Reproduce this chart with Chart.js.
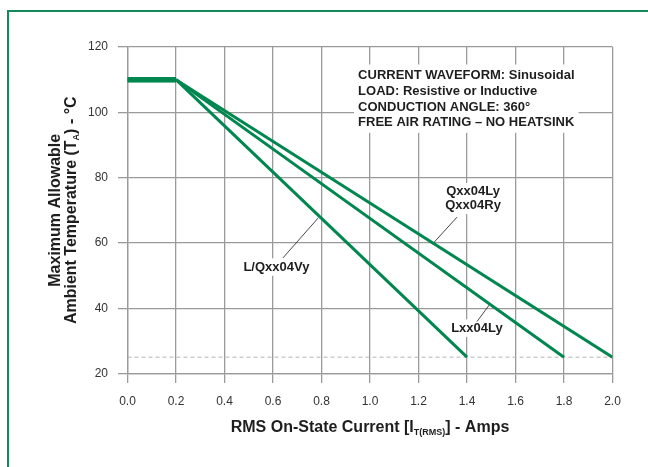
<!DOCTYPE html>
<html><head><meta charset="utf-8">
<script src="https://cdn.jsdelivr.net/npm/chart.js@4.4.1/dist/chart.umd.min.js"></script>
<style>
html,body{margin:0;padding:0;background:#fff;overflow:hidden;width:648px;height:467px}
#frame{position:absolute;left:7px;top:10px;width:700px;height:520px;border-left:2px solid #16895c;border-top:2px solid #16895c}
canvas{position:absolute;left:0;top:0}
</style></head>
<body><div id="frame"></div><canvas id="c" width="648" height="467"></canvas>
<script>
// ---- data ----
const vyCurrent = [0, 0.2, 1.4];
const vyTemp    = [110, 110, 25];
const lyCurrent = [0, 0.2, 1.8];
const lyTemp    = [110, 110, 25];
const qCurrent  = [0, 0.2, 2.0];
const qTemp     = [110, 110, 25];
const refCurrent = [0, 2.0];
const refTemp    = [25, 25];
const xTicks = [0, 0.2, 0.4, 0.6, 0.8, 1.0, 1.2, 1.4, 1.6, 1.8, 2.0];
const yTicks = [20, 40, 60, 80, 100, 120];
const conditionLines = ['CURRENT WAVEFORM: Sinusoidal', 'LOAD: Resistive or Inductive', 'CONDUCTION ANGLE: 360°', 'FREE AIR RATING – NO HEATSINK'];
// label texts, anchor (data units) and leader ends (data units)
const seriesLabels = [
  {lines: ['L/Qxx04Vy'], at: [0.614, 52.6], from: [0.641, 55.4], to: [0.786, 67.6]},
  {lines: ['Qxx04Ly', 'Qxx04Ry'], at: [1.425, 73.6], from: [1.359, 67.9], to: [1.262, 60.0]},
  {lines: ['Lxx04Ly'], at: [1.441, 33.9], from: [1.441, 35.9], to: [1.495, 41.3]}
];
const conditionAt = [0.951, 120 - (75.5 - 47) / 3.265];

const pts = (xs, ys) => xs.map((x, i) => ({x, y: ys[i]}));
const GREEN = '#00874f';
const GRID = '#9a9a9a';
const FONT = '"Liberation Sans", Arial, Helvetica, sans-serif';

const seg = {borderWidth: c => (c.p0.parsed.x < 0.2 ? 5 : 3)};
const lineDs = (label, xs, ys) => ({label, data: pts(xs, ys), borderColor: GREEN, borderWidth: 3, pointRadius: 0, tension: 0, fill: false, segment: seg, borderJoinStyle: 'miter', order: 1});

const annot = {
  id: 'annot',
  beforeDatasetsDraw(chart) {
    const {ctx, scales: {x, y}} = chart;
    ctx.save();
    // condition block
    ctx.font = 'bold 13px ' + FONT;
    const cx = x.getPixelForValue(conditionAt[0]);
    const cy = y.getPixelForValue(conditionAt[1]);
    const ls = 15.8;
    let w = 0; conditionLines.forEach(t => w = Math.max(w, ctx.measureText(t).width));
    ctx.fillStyle = '#fff';
    ctx.fillRect(cx - 4, cy - 11, w + 8, 3 * ls + 21);
    ctx.fillStyle = '#1e1e1e';
    ctx.textBaseline = 'middle'; ctx.textAlign = 'left';
    conditionLines.forEach((t, i) => ctx.fillText(t, cx, cy + i * ls));
    // series labels
    seriesLabels.forEach(l => {
      const px = x.getPixelForValue(l.at[0]);
      const py = y.getPixelForValue(l.at[1]);
      const lh = 13.5;
      let lw = 0; l.lines.forEach(t => lw = Math.max(lw, ctx.measureText(t).width));
      const h = l.lines.length * lh;
      ctx.fillStyle = '#fff';
      ctx.fillRect(px - lw / 2 - 3, py - h / 2 - 2, lw + 6, h + 4);
      ctx.fillStyle = '#1e1e1e'; ctx.textAlign = 'center';
      l.lines.forEach((t, i) => ctx.fillText(t, px, py - h / 2 + lh / 2 + i * lh));
      ctx.strokeStyle = '#333'; ctx.lineWidth = 0.9;
      ctx.beginPath();
      ctx.moveTo(x.getPixelForValue(l.from[0]), y.getPixelForValue(l.from[1]));
      ctx.lineTo(x.getPixelForValue(l.to[0]), y.getPixelForValue(l.to[1]));
      ctx.stroke();
    });
    ctx.restore();
  },
  afterDraw(chart) {
    const {ctx, chartArea: a} = chart;
    ctx.save();
    ctx.fillStyle = '#1e1e1e';
    ctx.textBaseline = 'middle';
    // x title with subscript
    const big = 'bold 16px ' + FONT, small = 'bold 9px ' + FONT;
    const parts = [['RMS On-State Current [I', big, 0], ['T(RMS)', small, 5], ['] - Amps', big, 0]];
    let tw = 0; parts.forEach(p => { ctx.font = p[1]; tw += ctx.measureText(p[0]).width; });
    let sx = (a.left + a.right) / 2 - tw / 2; const ty = 428;
    ctx.textAlign = 'left';
    parts.forEach(p => { ctx.font = p[1]; ctx.fillText(p[0], sx, ty + p[2]); sx += ctx.measureText(p[0]).width; });
    // y title, rotated
    ctx.translate(0, (a.top + a.bottom) / 2);
    ctx.rotate(-Math.PI / 2);
    ctx.font = big; ctx.textAlign = 'center';
    ctx.fillText('Maximum Allowable', 0, 55.5);
    const yparts = [['Ambient Temperature (T', big, 0], ['A', small, 5], [') - °C', big, 0]];
    tw = 0; yparts.forEach(p => { ctx.font = p[1]; tw += ctx.measureText(p[0]).width; });
    sx = -tw / 2; ctx.textAlign = 'left';
    yparts.forEach(p => { ctx.font = p[1]; ctx.fillText(p[0], sx, 71.5 + p[2]); sx += ctx.measureText(p[0]).width; });
    ctx.restore();
  }
};

new Chart(document.getElementById('c'), {
  type: 'line',
  data: {datasets: [
    lineDs('L/Qxx04Vy', vyCurrent, vyTemp),
    lineDs('Lxx04Ly', lyCurrent, lyTemp),
    lineDs('Qxx04Ly / Qxx04Ry', qCurrent, qTemp),
    {label: 'ref', data: pts(refCurrent, refTemp), borderColor: '#b5b5b5', borderWidth: 1, borderDash: [4, 3], pointRadius: 0, order: 5}
  ]},
  options: {
    responsive: false, animation: false, devicePixelRatio: 1,
    layout: {padding: {left: 0, top: 47, right: 35.5, bottom: 0}},
    plugins: {legend: {display: false}, tooltip: {enabled: false}},
    scales: {
      x: {type: 'linear', min: 0, max: 2,
        afterBuildTicks: s => { s.ticks = xTicks.map(v => ({value: v})); },
        afterFit: s => { s.height = 93.5; },
        grid: {color: GRID, lineWidth: 1.3, tickLength: 9.5, drawTicks: true},
        border: {display: true, color: GRID, width: 1.3},
        ticks: {callback: v => Number(v).toFixed(1), color: '#333', font: {size: 12, family: FONT}, padding: 11, maxRotation: 0}
      },
      y: {type: 'linear', min: 20, max: 120,
        afterBuildTicks: s => { s.ticks = yTicks.map(v => ({value: v})); },
        afterFit: s => { s.width = 127.5; },
        grid: {color: GRID, lineWidth: 1.3, tickLength: 9.5},
        border: {display: true, color: GRID, width: 1.3},
        ticks: {color: '#333', font: {size: 12, family: FONT}, padding: 10}
      }
    }
  },
  plugins: [annot]
});
</script>
</body></html>
